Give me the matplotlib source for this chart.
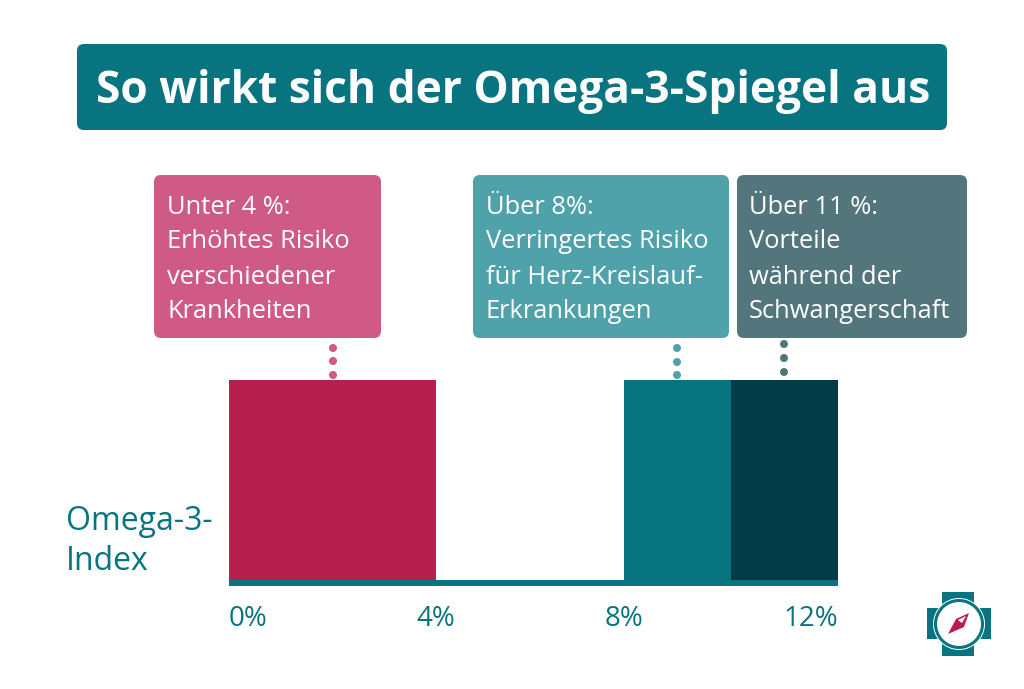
import matplotlib
matplotlib.use('Agg')
import matplotlib.pyplot as plt
from matplotlib.patches import FancyBboxPatch, Rectangle, Circle, Polygon

W, H = 1024, 689
TEAL = '#08747f'
RED = '#b71f4e'
DARK = '#033c46'
PINK = '#cf5a85'
LTEAL = '#4fa1aa'
GREY = '#52767c'

# bars (axis is not quite even in the original)
bar_starts = [0, 7.78, 9.89]
bar_ends = [4.08, 9.89, 12]
bar_colors = [RED, TEAL, DARK]
tick_pos = [0, 4.08, 7.78, 12]
tick_labels = ['0%', '4%', '8%', '12%']

box_texts = [
    'Unter 4 %:\nErhöhtes Risiko\nverschiedener\nKrankheiten',
    'Über 8%:\nVerringertes Risiko\nfür Herz-Kreislauf-\nErkrankungen',
    'Über 11 %:\nVorteile\nwährend der\nSchwangerschaft',
]
title = 'So wirkt sich der Omega-3-Spiegel aus'
ylabel = ['Omega-3-', 'Index']

plt.rcParams['font.family'] = ['Open Sans', 'DejaVu Sans']

fig = plt.figure(figsize=(W / 100, H / 100), dpi=100)
bg = fig.add_axes([0, 0, 1, 1])
bg.set_xlim(0, W)
bg.set_ylim(H, 0)
bg.axis('off')


def box(x0, y0, x1, y1, color, r=7):
    bg.add_patch(FancyBboxPatch((x0 + r, y0 + r), x1 - x0 - 2 * r, y1 - y0 - 2 * r,
                                boxstyle=f'round,pad={r},rounding_size={r}',
                                fc=color, ec='none'))


# title
box(77, 44, 947, 130, TEAL)
bg.text(513, 91, title, color='white', fontsize=31.9, fontweight='bold', ha='center', va='center')

# info boxes
box_pos = [(154, 381, PINK, 167), (473, 729, LTEAL, 486), (737, 967, GREY, 749)]
for (x0, x1, c, tx), txt in zip(box_pos, box_texts):
    box(x0, 175, x1, 338, c)
    for i, line in enumerate(txt.split('\n')):
        bg.text(tx, 207 + i * 35, line, color='white', fontsize=18.4, ha='left', va='center')

# dotted connectors
for x, ys, c in [(333, (348, 361, 375), PINK), (677, (348, 362, 375), LTEAL), (784, (344, 358, 372), GREY)]:
    for y in ys:
        bg.add_patch(Circle((x, y), 4.0, fc=c, ec='none'))

# chart part
ax = fig.add_axes([229 / W, 1 - 586 / H, 609 / W, 206 / H])
ax.set_xlim(0, 12)
ax.set_ylim(-6, 200)
ax.axis('off')
ax.barh(-3, 12, height=6, left=0, color=TEAL)
for s, e, c in zip(bar_starts, bar_ends, bar_colors):
    ax.bar(s, 200, width=e - s, bottom=0, align='edge', color=c)
ax.bar(7.78, 6, width=4.22, bottom=-6, align='edge', color=TEAL)

# tick labels
for p, lab, ha in zip(tick_pos, tick_labels, ['left', 'center', 'center', 'right']):
    ax.text(p, -39, lab, color=TEAL, fontsize=20, ha=ha, va='center')

bg.text(66, 521, ylabel[0], color=TEAL, fontsize=23, ha='left', va='center')
bg.text(66, 562, ylabel[1], color=TEAL, fontsize=23, ha='left', va='center')

# logo
bg.add_patch(Rectangle((942, 592), 32, 64, fc=TEAL, ec='none'))
bg.add_patch(Rectangle((927, 608), 64, 31, fc=TEAL, ec='none'))
bg.add_patch(Circle((959, 624), 26, fc='white', ec='none'))
bg.add_patch(Circle((959, 624), 23.5, fc='white', ec=TEAL, lw=2.2))
bg.add_patch(Polygon([(969, 613), (964, 627), (948, 634), (956, 619)], fc=RED, ec='none'))
bg.add_patch(Polygon([(966, 616), (962, 623), (958, 620)], fc='white', ec='none'))

fig.savefig('out.png', dpi=100)
